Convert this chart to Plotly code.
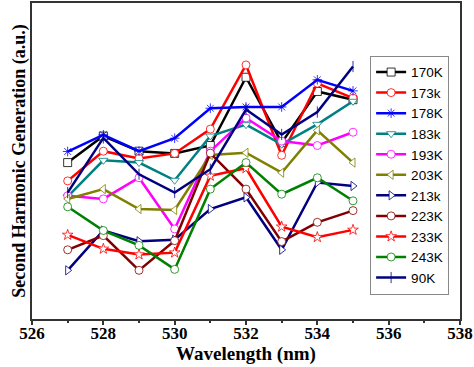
import plotly.graph_objects as go

wavelength = [527, 528, 529, 530, 531, 532, 533, 534, 535]

shg_170K = [4.95, 5.79, 5.31, 5.24, 5.49, 7.65, 5.58, 7.20, 6.94]
shg_173k = [4.37, 5.31, 5.08, 5.24, 6.01, 8.04, 5.18, 7.46, 6.99]
shg_178K = [5.30, 5.83, 5.31, 5.72, 6.67, 6.71, 6.71, 7.57, 7.22]
shg_183k = [3.87, 5.02, 4.95, 4.39, 5.79, 6.15, 5.53, 6.16, 6.89]
shg_193K = [3.90, 3.80, 4.47, 2.85, 5.31, 6.36, 5.63, 5.49, 5.91]
shg_203K = [3.80, 4.11, 3.48, 3.45, 5.19, 5.26, 4.63, 5.97, 4.95]
shg_213k = [1.54, 2.80, 2.46, 2.51, 3.48, 3.85, 2.19, 4.32, 4.21]
shg_223K = [2.19, 2.64, 1.54, 2.48, 5.25, 4.11, 2.45, 3.06, 3.43]
shg_233K = [2.66, 2.22, 2.04, 2.10, 4.53, 4.77, 2.92, 2.59, 2.82]
shg_243K = [3.55, 2.80, 2.33, 1.57, 4.11, 4.95, 3.95, 4.47, 3.74]
shg_90K = [4.00, 5.73, 4.58, 4.00, 4.74, 6.63, 5.84, 6.55, 7.99]

series_names = ["170K", "173k", "178K", "183k", "193K", "203K", "213k", "223K", "233K", "243K", "90K"]
series_values = [shg_170K, shg_173k, shg_178K, shg_183k, shg_193K, shg_203K,
                 shg_213k, shg_223K, shg_233K, shg_243K, shg_90K]

colors = ["#000000", "#ff0000", "#0000ff", "#008080", "#ff00ff", "#808000",
          "#000080", "#800000", "#ff0000", "#008000", "#000080"]
symbols = ["square", "circle", "asterisk-open", "triangle-down", "circle", "triangle-left",
           "triangle-right", "circle", "star", "circle", "line-ns-open"]

fig = go.Figure()
for name, vals, col, sym in zip(series_names, series_values, colors, symbols):
    open_sym = sym.endswith("-open")
    fig.add_trace(go.Scatter(
        x=wavelength, y=vals, name=name, mode="lines+markers",
        line=dict(color=col, width=2.5),
        marker=dict(symbol=sym, size=8,
                    color=col if open_sym else "white",
                    line=dict(color=col, width=0.8)),
    ))

fig.update_layout(
    width=474, height=367,
    margin=dict(l=32, r=12, t=1, b=48),
    paper_bgcolor="white", plot_bgcolor="white",
    font=dict(family="Liberation Serif", color="black"),
    showlegend=True,
    legend=dict(
        x=0.79, y=0.833, xanchor="left", yanchor="top",
        bgcolor="white", bordercolor="#888888", borderwidth=1,
        font=dict(family="Liberation Sans", size=13.5, color="black"),
        tracegroupgap=0, itemwidth=30,
    ),
)
fig.update_xaxes(
    range=[526, 538], tickvals=[526, 528, 530, 532, 534, 536, 538],
    ticks="outside", ticklen=4, tickwidth=1.5, tickcolor="#333",
    ticklabelstandoff=-6, ticklabeloverflow="allow",
    minor=dict(tickvals=[527, 529, 531, 533, 535, 537], ticks="outside", ticklen=2, tickcolor="#333"),
    showline=True, linecolor="#333", linewidth=2, mirror=True,
    showgrid=False, zeroline=False,
    tickfont=dict(family="Liberation Serif", size=17, color="black", weight="bold"),
    title=dict(text="<b>Wavelength (nm)</b>", font=dict(family="Liberation Serif", size=19, color="black"), standoff=0),
)
fig.update_yaxes(
    range=[0, 10], showticklabels=False, ticks="",
    showline=True, linecolor="#333", linewidth=2, mirror=True,
    showgrid=False, zeroline=False,
    title=dict(text="<b>Second Harmonic Generation (a.u.)</b>", font=dict(family="Liberation Serif", size=18, color="black"), standoff=0),
)

fig.write_html("out.html", config={"displayModeBar": False},
               post_script="document.body.style.margin='0';document.body.style.overflow='hidden';")
